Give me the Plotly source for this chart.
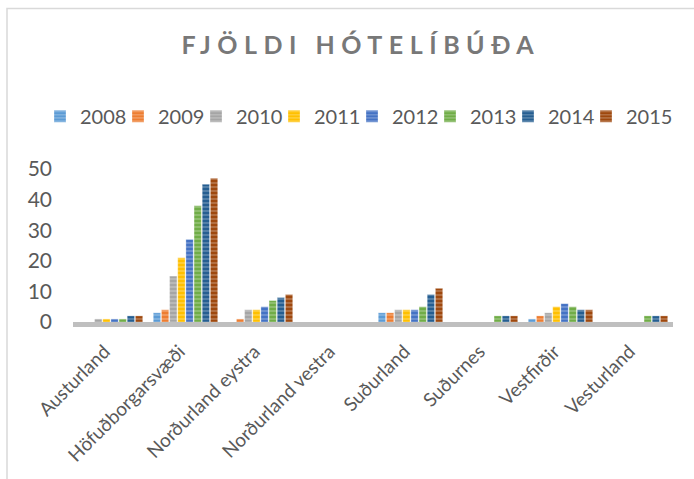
import plotly.graph_objects as go

categories = ["Austurland", "Höfuðborgarsvæði", "Norðurland eystra", "Norðurland vestra",
              "Suðurland", "Suðurnes", "Vestfirðir", "Vesturland"]
years = ["2008", "2009", "2010", "2011", "2012", "2013", "2014", "2015"]
v2008 = [0, 3, 0, 0, 3, 0, 1, 0]
v2009 = [0, 4, 1, 0, 3, 0, 2, 0]
v2010 = [1, 15, 4, 0, 4, 0, 3, 0]
v2011 = [1, 21, 4, 0, 4, 0, 5, 0]
v2012 = [1, 27, 5, 0, 4, 0, 6, 0]
v2013 = [1, 38, 7, 0, 5, 2, 5, 2]
v2014 = [2, 45, 8, 0, 9, 2, 4, 2]
v2015 = [2, 47, 9, 0, 11, 2, 4, 2]
series = [v2008, v2009, v2010, v2011, v2012, v2013, v2014, v2015]
colors = ["#5B9BD5", "#ED7D31", "#A5A5A5", "#FFC000", "#4472C4", "#70AD47", "#255E91", "#9E480E"]

fig = go.Figure()
legends = {}
for i, (name, vals, col) in enumerate(zip(years, series, colors)):
    lname = "legend" if i == 0 else f"legend{i + 1}"
    fig.add_trace(go.Bar(
        x=categories, y=vals, name=name, legend=lname,
        marker=dict(color=col, line=dict(color="rgba(255,255,255,0.6)", width=0.5),
                    pattern=dict(shape="-", fgcolor="white", fgopacity=0.35, size=4, solidity=0.3)),
    ))
    swatch_center = 60 + 78 * i
    legends[lname] = dict(orientation="h", xanchor="left",
                          x=(swatch_center - 20 - 73) / 600,
                          y=(321.5 - 116.5) / 152.5, yanchor="middle",
                          font=dict(size=20, color="#595959"), itemwidth=30,
                          bgcolor="rgba(0,0,0,0)")

fig.update_layout(
    width=694, height=479,
    paper_bgcolor="white", plot_bgcolor="white",
    margin=dict(l=73, r=21, t=169, b=157, autoexpand=False),
    font=dict(family="Lato, Carlito, Calibri, sans-serif", color="#595959"),
    title=dict(text="FJÖLDI HÓTELÍBÚÐA", x=0.52, xanchor="center", y=0.905, yanchor="middle",
               font=dict(size=25, color="#787878", weight=700)),
    barmode="group", bargap=0.13, bargroupgap=0.1,
    showlegend=True,
    xaxis=dict(showline=True, linecolor="#BFBFBF", linewidth=5, tickangle=-45,
               tickfont=dict(size=19, color="#595959"), ticks="", showgrid=False,
               ticklabelshift=-6, ticklabelstandoff=6),
    yaxis=dict(range=[0, 50], dtick=10, showgrid=False, showline=False, zeroline=False,
               tickfont=dict(size=21, color="#595959"), ticks="", ticklabelstandoff=20),
    shapes=[dict(type="rect", xref="paper", yref="paper",
                 x0=(7 - 73) / 600, x1=(700 - 73) / 600,
                 y0=-1.1, y1=(321.5 - 9) / 152.5,
                 line=dict(color="#D9D9D9", width=1.5), fillcolor="rgba(0,0,0,0)", layer="below")],
    **legends,
)

fig.write_html("out.html", config={"displayModeBar": False},
               post_script="document.body.style.margin='0';"
                           "document.querySelectorAll('.gtitle').forEach(function(e){e.style.letterSpacing='6.5px';});")
